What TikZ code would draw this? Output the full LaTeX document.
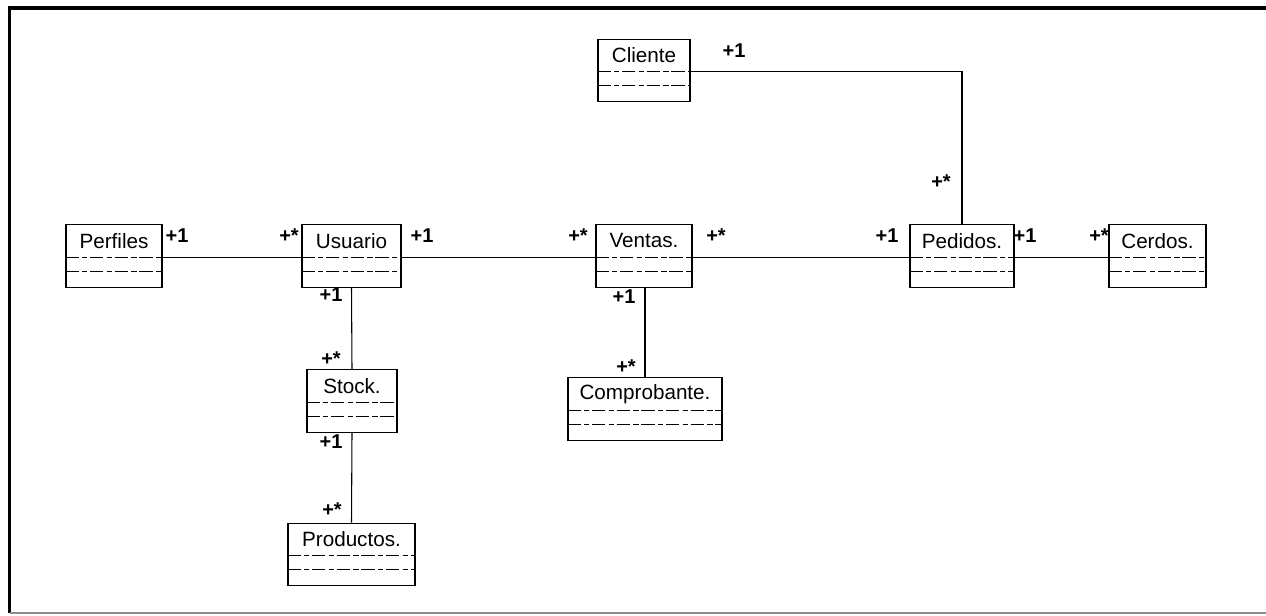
\documentclass[tikz,border=0pt]{standalone}
\usepackage{fontspec}
\setmainfont{Liberation Sans}
\usetikzlibrary{calc}

% one class box: name, centre x, centre y, width (px), title
\newcommand{\umlclass}[5]{%
  \node[classbox, minimum width=#4*0.75pt] (#1) at (#2,#3) {};
  \node[classtitle] (#1-title) at ($(#1.north)+(0,16.5)$) {#5};
  \coordinate (#1-sw) at ($(#1.north west)+(0,33)$);
  \coordinate (#1-se) at ($(#1.north east)+(0,33)$);
  \draw[compart] (#1-sw) -- (#1-se);
  \draw[compart] ($(#1.north west)+(0,47)$) -- ($(#1.north east)+(0,47)$);
}

\begin{document}
\begin{tikzpicture}[x=0.75pt, y=-0.75pt,
  classbox/.style={draw=black, line width=0.9pt, rectangle, inner sep=0pt,
    minimum height=62.5*0.75pt},
  classtitle/.style={font=\fontsize{15.5pt}{17pt}\selectfont, inner sep=0pt},
  compart/.style={line width=0.7pt, dash pattern=on 10pt off 2.5pt on 4pt off 2pt},
  assoc/.style={line width=0.8pt},
  mult/.style={font=\fontsize{15pt}{17pt}\selectfont\bfseries, inner sep=0pt},
  frameline/.style={line width=2.4pt}]
\useasboundingbox (0,0) rectangle (1266,615);

% outer frame
\draw[frameline] (9.5,613) -- (9.5,8) -- (1266,8);
\draw[line width=0.8pt, black!45] (9.5,613) -- (1266,613);

% classes
\umlclass{cliente}{644}{70.5}{92}{Cliente}
\umlclass{perfiles}{114}{256}{96}{Perfiles}
\umlclass{usuario}{351.5}{256}{99}{Usuario}
\umlclass{ventas}{644}{256}{96}{Ventas.}
\umlclass{pedidos}{962}{256}{104}{Pedidos.}
\umlclass{cerdos}{1157.5}{256}{97}{Cerdos.}
\umlclass{stock}{352}{401}{90}{Stock.}
\umlclass{comprobante}{645}{409}{154}{Comprobante.}
\umlclass{productos}{351.5}{554.5}{127}{Productos.}

% associations
\draw[assoc] (perfiles-se) -- (usuario-sw);
\draw[assoc] (usuario-se) -- (ventas-sw);
\draw[assoc] (ventas-se) -- (pedidos-sw);
\draw[assoc] (pedidos-se) -- (cerdos-sw);
\draw[assoc] (usuario.south) -- (stock.north);
\draw[assoc] (stock.south) -- (productos.north);
\draw[assoc] (ventas.south -| comprobante.north) -- (comprobante.north);
\draw[assoc] (pedidos.north) |- (cliente-se);

% multiplicities
\node[mult] (m-perfiles) at (177,236) {+1};
\node[mult] (m-usuario-l) at (289,236) {+*};
\node[mult] (m-usuario-r) at (422,236) {+1};
\node[mult] (m-ventas-l) at (578,236) {+*};
\node[mult] (m-ventas-r) at (716,236) {+*};
\node[mult] (m-pedidos-l) at (887,236) {+1};
\node[mult] (m-pedidos-r) at (1025,236) {+1};
\node[mult] (m-cerdos) at (1099,236) {+*};
\node[mult] (m-usuario-b) at (331,295) {+1};
\node[mult] (m-stock-t) at (331,359) {+*};
\node[mult] (m-stock-b) at (331,442) {+1};
\node[mult] (m-productos) at (332,510) {+*};
\node[mult] (m-ventas-b) at (624,297) {+1};
\node[mult] (m-comprobante) at (626,367) {+*};
\node[mult] (m-cliente) at (734,51) {+1};
\node[mult] (m-pedidos-t) at (941,182) {+*};
\end{tikzpicture}
\end{document}
